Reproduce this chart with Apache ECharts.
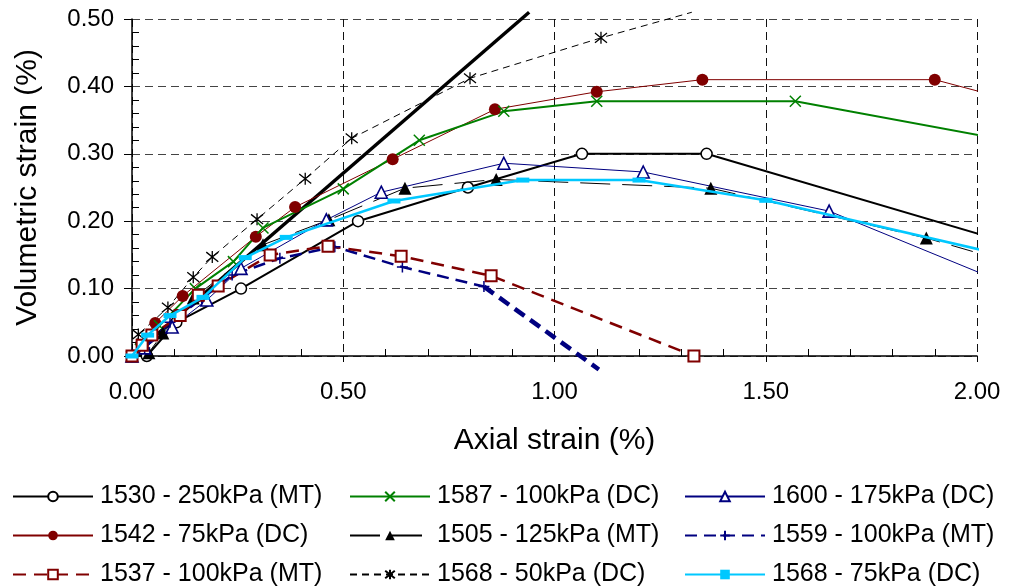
<!DOCTYPE html>
<html>
<head>
<meta charset="utf-8">
<script src="https://cdn.jsdelivr.net/npm/echarts@6/dist/echarts.min.js"></script>
<style>
html, body { margin: 0; padding: 0; background: #fff; }
#chart { width: 1009px; height: 587px; }
</style>
</head>
<body>
<div id="chart"></div>
<script>
// Axis ticks
const xTicks = [0.0, 0.5, 1.0, 1.5, 2.0];
const yTicks = [0.0, 0.1, 0.2, 0.3, 0.4, 0.5];

// Test names
const name1530 = '1530 - 250kPa (MT)';
const name1542 = '1542 - 75kPa (DC)';
const name1537 = '1537 - 100kPa (MT)';
const name1587 = '1587 - 100kPa (DC)';
const name1505 = '1505 - 125kPa (MT)';
const name1568a = '1568 - 50kPa (DC)';
const name1600 = '1600 - 175kPa (DC)';
const name1559 = '1559 - 100kPa (MT)';
const name1568b = '1568 - 75kPa (DC)';

// [axial strain %, volumetric strain %] readings; *Edge = where the trace leaves the frame
const pts1530 = [[0,0],[0.035,0.0],[0.105,0.05],[0.258,0.10],[0.535,0.20],[0.795,0.25],[1.065,0.30],[1.36,0.30]];
const edge1530 = [2.02, 0.178];

const pts1542 = [[0,0],[0.025,0.015],[0.055,0.049],[0.12,0.089],[0.293,0.177],[0.386,0.221],[0.617,0.292],[0.859,0.366],[1.10,0.392],[1.35,0.41],[1.90,0.41]];
const edge1542 = [2.02, 0.39];

const pts1537 = [[0,0],[0.024,0.016],[0.047,0.031],[0.114,0.06],[0.157,0.09],[0.204,0.104],[0.327,0.15],[0.464,0.163],[0.637,0.148],[0.85,0.119],[1.33,0.0]];
const edge1537 = [1.36, -0.01];

const pts1587 = [[0,0],[0.02,0.01],[0.065,0.045],[0.15,0.10],[0.24,0.14],[0.31,0.19],[0.50,0.248],[0.68,0.32],[0.88,0.363],[1.10,0.378],[1.57,0.378]];
const edge1587 = [2.02, 0.326];

const pts1505 = [[0,0],[0.04,0.005],[0.073,0.034],[0.145,0.086],[0.31,0.165],[0.466,0.202],[0.646,0.249],[0.862,0.262],[1.37,0.249],[1.88,0.175]];
const edge1505 = [1.99, 0.155];

const pts1568a = [[0,0],[0.015,0.032],[0.085,0.072],[0.145,0.117],[0.19,0.147],[0.296,0.203],[0.41,0.263],[0.52,0.323],[0.80,0.412],[1.11,0.472]];
const edge1568a = [1.325, 0.51];

const pts1600 = [[0,0],[0.03,0.012],[0.095,0.043],[0.177,0.083],[0.258,0.13],[0.46,0.202],[0.59,0.243],[0.88,0.286],[1.21,0.273],[1.65,0.215]];
const edge1600 = [2.02, 0.12];

const pts1559 = [[0,0],[0.03,0.012],[0.09,0.05],[0.165,0.085],[0.237,0.12],[0.35,0.145],[0.48,0.162],[0.64,0.132],[0.833,0.103]];
const tail1559 = [[0.833,0.103],[1.105,-0.02]];

const pts1568b = [[0,0],[0.037,0.031],[0.09,0.06],[0.168,0.087],[0.268,0.146],[0.365,0.176],[0.62,0.23],[0.925,0.261],[1.20,0.261],[1.50,0.231]];
const edge1568b = [2.02, 0.156];

// Straight reference line through the origin
const refLine = [[0,0],[0.94,0.51]];

const FONT = '"Liberation Sans", Arial, Helvetica, sans-serif';
const CROSS = 'path://M0,0L10,10M10,0L0,10';
const PLUS = 'path://M5,0L5,10M0,5L10,5';
const STAR = 'path://M1,1L9,9M9,1L1,9M5,0L5,10';

function withEdge(pts, edge) {
  const d = pts.map(p => ({ value: p }));
  if (edge) d.push({ value: edge, symbol: 'none' });
  return d;
}

function lineSeries(name, pts, edge, color, width, dash, symbol, size, item, z) {
  return {
    name: name,
    type: 'line',
    clip: false,
    z: z || 2,
    data: withEdge(pts, edge),
    symbol: symbol,
    symbolSize: size,
    lineStyle: { color: color, width: width, type: dash || 'solid' },
    itemStyle: item,
    emphasis: { disabled: true }
  };
}

const series = [
  {
    name: 'reference', type: 'line', clip: false, z: 1, silent: true,
    data: refLine, symbol: 'none',
    lineStyle: { color: '#000', width: 3.5 }
  },
  lineSeries(name1568a, pts1568a, edge1568a, '#000', 1, [7, 5], STAR, 12,
    { color: '#000', borderColor: '#000', borderWidth: 1.3 }),
  lineSeries(name1542, pts1542, edge1542, '#800000', 1, 'solid', 'circle', 12,
    { color: '#800000', borderColor: '#800000', borderWidth: 0 }),
  lineSeries(name1587, pts1587, edge1587, '#008000', 2, 'solid', CROSS, 11,
    { color: '#008000', borderColor: '#008000', borderWidth: 1.5 }),
  lineSeries(name1530, pts1530, edge1530, '#000', 2, 'solid', 'circle', 11,
    { color: '#fff', borderColor: '#000', borderWidth: 1.5 }),
  lineSeries(name1505, pts1505, edge1505, '#000', 1, [30, 12], 'triangle', 13,
    { color: '#000', borderColor: '#000', borderWidth: 0 }),
  lineSeries(name1600, pts1600, edge1600, '#000080', 1, 'solid', 'triangle', 12,
    { color: '#fff', borderColor: '#000080', borderWidth: 1.6 }),
  lineSeries(name1559, pts1559, null, '#000080', 2.5, [12, 7], PLUS, 11,
    { color: '#000080', borderColor: '#000080', borderWidth: 1.5 }),
  {
    name: '1559 tail', type: 'line', clip: false, z: 2, silent: true,
    data: tail1559, symbol: 'none',
    lineStyle: { color: '#000080', width: 4.5, type: [12, 7] }
  },
  lineSeries(name1537, pts1537, edge1537, '#800000', 2.5, [13, 8], 'rect', 11,
    { color: '#fff', borderColor: '#800000', borderWidth: 2 }),
  lineSeries(name1568b, pts1568b, edge1568b, '#00C8FF', 2.5, 'solid', 'rect', [13, 5],
    { color: '#00C8FF', borderColor: '#00C8FF', borderWidth: 0 }, 3)
];

const legendCommon = {
  orient: 'vertical',
  top: 484,
  padding: 0,
  itemWidth: 80,
  itemHeight: 12,
  itemGap: 14,
  selectedMode: false,
  textStyle: { fontFamily: FONT, fontSize: 25, color: '#000', lineHeight: 24, padding: [0, 0, 0, 2] }
};

const option = {
  animation: false,
  backgroundColor: '#fff',
  textStyle: { fontFamily: FONT },
  grid: { left: 132, right: 32, top: 19, bottom: 231 },
  xAxis: {
    type: 'value',
    min: xTicks[0], max: xTicks[xTicks.length - 1], interval: xTicks[1] - xTicks[0],
    name: 'Axial strain (%)', nameLocation: 'middle', nameGap: 70,
    nameTextStyle: { fontFamily: FONT, fontSize: 30, color: '#000' },
    axisLine: { onZero: false, lineStyle: { color: '#000', width: 1.5 } },
    axisTick: { show: true, length: 6, lineStyle: { color: '#000', width: 1 } },
    minorTick: { show: true, splitNumber: 5, length: -7, lineStyle: { color: '#000', width: 1 } },
    axisLabel: { formatter: v => v.toFixed(2), fontFamily: FONT, fontSize: 24, color: '#000', margin: 24 },
    splitLine: { show: true, lineStyle: { color: '#111', width: 1, type: [8, 5] } }
  },
  yAxis: {
    type: 'value',
    min: yTicks[0], max: yTicks[yTicks.length - 1], interval: yTicks[1] - yTicks[0],
    name: 'Volumetric strain (%)', nameLocation: 'middle', nameGap: 89,
    nameTextStyle: { fontFamily: FONT, fontSize: 30, color: '#000' },
    axisLine: { onZero: false, lineStyle: { color: '#000', width: 1.5 } },
    axisTick: { show: true, length: 8, lineStyle: { color: '#000', width: 1 } },
    minorTick: { show: true, splitNumber: 5, length: -7, lineStyle: { color: '#000', width: 1 } },
    axisLabel: { formatter: v => v.toFixed(2), fontFamily: FONT, fontSize: 24, color: '#000', margin: 18 },
    splitLine: { show: true, lineStyle: { color: '#444', width: 1, type: [8, 5] } }
  },
  legend: [
    Object.assign({ left: 12, data: [name1530, name1542, name1537] }, legendCommon),
    Object.assign({ left: 349, data: [name1587, name1505, name1568a] }, legendCommon),
    Object.assign({ left: 684, data: [name1600, name1559, name1568b] }, legendCommon)
  ],
  series: series
};

const chart = echarts.init(document.getElementById('chart'), null, { renderer: 'canvas' });
chart.setOption(option);
</script>
</body>
</html>
